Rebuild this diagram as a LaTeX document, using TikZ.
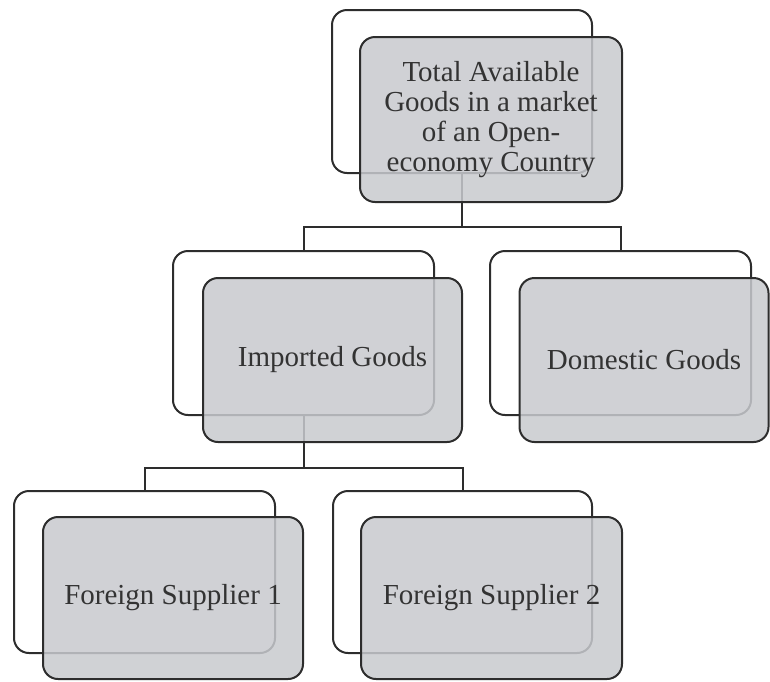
\documentclass[tikz,border=0pt]{standalone}
\usepackage{fontspec}
\setmainfont{Liberation Serif}
\usepackage{tikz}
\definecolor{boxgray}{RGB}{200,202,206}
\definecolor{edgegray}{RGB}{45,45,45}

\begin{document}
\begin{tikzpicture}[x=1pt,y=-1pt,
    backbox/.style={draw=edgegray,line width=2pt,rounded corners=15pt,fill=white,inner sep=0pt},
    frontbox/.style={draw=edgegray,line width=2pt,rounded corners=15pt,fill=boxgray,fill opacity=0.85,
        text opacity=1,text=black!80,inner sep=0pt,align=center,font=\fontsize{29}{30}\selectfont},
    link/.style={draw=edgegray,line width=2pt}]
\useasboundingbox (0,0) rectangle (770,681);

% Back (white) boxes
\node[backbox,minimum width=260pt,minimum height=163pt] (topb) at (462,91.5) {};
\node[backbox,minimum width=261pt,minimum height=164pt] (impb) at (303.5,333) {};
\node[backbox,minimum width=261pt,minimum height=164pt] (domb) at (620.5,333) {};
\node[backbox,minimum width=261pt,minimum height=162pt] (fsab) at (144.5,572) {};
\node[backbox,minimum width=259pt,minimum height=162pt] (fsbb) at (462.5,572) {};

% Tree connectors
\draw[link] (topb.south) -- ++(0,53) -| (impb.north);
\draw[link] (topb.south) -- ++(0,53) -| (domb.north);
\draw[link] (impb.south) -- ++(0,52) -| (fsab.north);
\draw[link] (impb.south) -- ++(0,52) -| (fsbb.north);

% Front (grey) boxes with the labels
\node[frontbox,minimum width=262pt,minimum height=165pt] (top) at (491,119.5)
    {Total Available\\Goods in a market\\of an Open-\\economy Country};
\node[frontbox,minimum width=259pt,minimum height=164pt] (imp) at (332.5,360) {Imported Goods};
\node[frontbox,minimum width=249pt,minimum height=164pt] (dom) at (644,360) {Domestic Goods};
\node[frontbox,minimum width=260pt,minimum height=162pt] (fsa) at (173,598) {Foreign Supplier 1};
\node[frontbox,minimum width=261pt,minimum height=162pt] (fsb) at (491.5,598) {Foreign Supplier 2};
\end{tikzpicture}
\end{document}
